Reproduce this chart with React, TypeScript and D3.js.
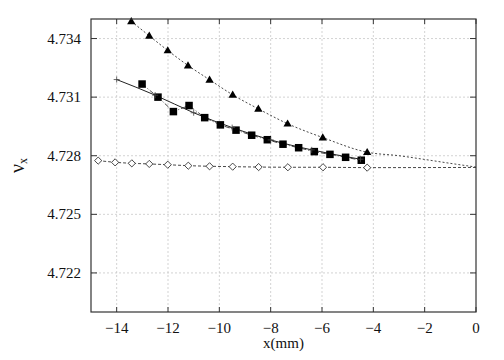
import React from "react";
import * as d3 from "d3";

const xTicks = [-14, -12, -10, -8, -6, -4, -2, 0];
const yTicks = [4.722, 4.725, 4.728, 4.731, 4.734];

const triX = [-13.43, -12.73, -12.01, -11.22, -10.38, -9.48, -8.48, -7.34, -5.97, -4.24];
const triY = [4.73488, 4.73414, 4.73339, 4.73262, 4.73189, 4.73112, 4.7304, 4.72964, 4.72893, 4.72818];
const triFitX = [-3, -2, -1, 0];
const triFitY = [4.72800, 4.72781, 4.72761, 4.72742];

const sqX = [-13.01, -12.39, -11.79, -11.18, -10.57, -9.96, -9.35, -8.74, -8.13, -7.52, -6.91, -6.3, -5.69, -5.08, -4.47];
const sqY = [4.73167, 4.731, 4.73026, 4.73057, 4.72995, 4.72958, 4.72931, 4.72905, 4.72882, 4.72859, 4.72841, 4.72821, 4.72807, 4.72792, 4.72777];

const plusX = [-14, -12.5, -11, -9.5, -8, -6.4, -4.5];
const plusY = [4.7319, 4.7311, 4.7302, 4.72944, 4.72881, 4.7283, 4.72782];

const diaX = [-14.72, -14.06, -13.41, -12.73, -12.01, -11.21, -10.38, -9.48, -8.47, -7.33, -5.96, -4.24];
const diaY = [4.72775, 4.72766, 4.72761, 4.72758, 4.72754, 4.72749, 4.72746, 4.72744, 4.72742, 4.72741, 4.72741, 4.72739];
const diaFitX = [0];
const diaFitY = [4.72740];

const W = 504, H = 360;
const L = 91, R = 476, T = 19, B = 312;
const font = "'Liberation Serif', 'Times New Roman', serif";

export default function App() {
  const x = d3.scaleLinear().domain([-15, 0]).range([L, R]);
  const y = d3.scaleLinear().domain([4.72, 4.735]).range([B, T]);
  const zip = (xs: number[], ys: number[]) => xs.map((v, i) => [v, ys[i]] as [number, number]);
  const line = d3.line<[number, number]>().x(d => x(d[0])).y(d => y(d[1]));
  const curve = d3.line<[number, number]>().x(d => x(d[0])).y(d => y(d[1])).curve(d3.curveMonotoneX);

  const tri = zip(triX, triY);
  const sq = zip(sqX, sqY);
  const plus = zip(plusX, plusY);
  const dia = zip(diaX, diaY);

  const triPath = d3.symbol(d3.symbolTriangle, 30)()!;
  const sqS = 7.5;
  const diaPath = "M0,-3.6L3.6,0L0,3.6L-3.6,0Z";

  return (
    <svg width={W} height={H} style={{ position: "absolute", left: 0, top: 0, fontFamily: font }}>
      <rect width={W} height={H} fill="white" />
      {/* grid */}
      <g stroke="#c8c8c8" strokeWidth={0.8} strokeDasharray="2,2">
        {xTicks.filter(t => t > -15 && t < 0).map(t => (
          <line key={"gx" + t} x1={x(t)} x2={x(t)} y1={T} y2={B} />
        ))}
        {yTicks.map(t => (
          <line key={"gy" + t} x1={L} x2={R} y1={y(t)} y2={y(t)} />
        ))}
      </g>
      {/* ticks */}
      <g stroke="#333" strokeWidth={1}>
        {xTicks.map(t => (
          <g key={"tx" + t}>
            <line x1={x(t)} x2={x(t)} y1={B} y2={B - 5} />
            <line x1={x(t)} x2={x(t)} y1={T} y2={T + 5} />
          </g>
        ))}
        {yTicks.map(t => (
          <g key={"ty" + t}>
            <line x1={L} x2={L + 6} y1={y(t)} y2={y(t)} />
            <line x1={R} x2={R - 6} y1={y(t)} y2={y(t)} />
          </g>
        ))}
      </g>
      {/* series lines */}
      <path d={curve([...tri, ...zip(triFitX, triFitY)])!} fill="none" stroke="#333" strokeWidth={0.9} strokeDasharray="2,2" />
      <path d={line(sq)!} fill="none" stroke="#333" strokeWidth={0.9} strokeDasharray="5,2,1,2" />
      <path d={curve(plus)!} fill="none" stroke="#222" strokeWidth={1} />
      <path d={line([...dia, ...zip(diaFitX, diaFitY)])!} fill="none" stroke="#333" strokeWidth={0.9} strokeDasharray="3,2" />
      {/* markers */}
      {tri.map((d, i) => (
        <path key={"t" + i} d={triPath} transform={`translate(${x(d[0])},${y(d[1]) + 0.5})`} fill="#000" />
      ))}
      {sq.map((d, i) => (
        <rect key={"s" + i} x={x(d[0]) - sqS / 2} y={y(d[1]) - sqS / 2} width={sqS} height={sqS} fill="#000" />
      ))}
      {plus.map((d, i) => (
        <path key={"p" + i} d={`M${x(d[0]) - 3},${y(d[1])}h6M${x(d[0])},${y(d[1]) - 3}v6`} stroke="#444" strokeWidth={0.8} />
      ))}
      {dia.map((d, i) => (
        <path key={"d" + i} d={diaPath} transform={`translate(${x(d[0])},${y(d[1])})`} fill="white" stroke="#333" strokeWidth={0.9} />
      ))}
      {/* frame */}
      <rect x={L} y={T} width={R - L} height={B - T} fill="none" stroke="#333" strokeWidth={1.2} />
      {/* tick labels */}
      {xTicks.map(t => (
        <text key={"lx" + t} x={x(t)} y={B + 21} textAnchor="middle" fontSize={15} fill="#111" fontFamily={font}>{d3.format("d")(t)}</text>
      ))}
      {yTicks.map(t => (
        <text key={"ly" + t} x={81} y={y(t) + 5} textAnchor="end" fontSize={15} fill="#111" fontFamily={font}>{d3.format(".3f")(t)}</text>
      ))}
      <text x={(L + R) / 2} y={348} textAnchor="middle" fontSize={15} fill="#111" fontFamily={font}>x(mm)</text>
      <text transform={`translate(24,${(T + B) / 2}) rotate(-90)`} textAnchor="middle" fontSize={20} fill="#111" fontFamily={font}>
        ν<tspan fontSize={12} dy={3}>x</tspan>
      </text>
    </svg>
  );
}
